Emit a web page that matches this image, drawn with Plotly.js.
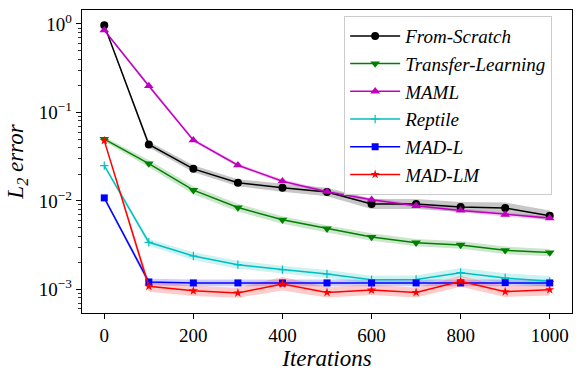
<!DOCTYPE html>
<html>
<head>
<meta charset="utf-8">
<script src="https://cdn.plot.ly/plotly-3.0.1.min.js"></script>
<style>
  html, body { margin: 0; padding: 0; background: #fff; }
  #chart { width: 581px; height: 377px; }
</style>
</head>
<body>
<div id="chart"></div>
<script>
// iterations sampled
const iterations = [0, 100, 200, 300, 400, 500, 600, 700, 800, 900, 1000];

// mean L2 error per method, with lower / upper band
const scratch = [0.97, 0.0434, 0.023, 0.016, 0.0141, 0.0126, 0.0092, 0.0092, 0.0085, 0.0083, 0.0068];
const scratchLo = [0.95, 0.040, 0.021, 0.0146, 0.0127, 0.0113, 0.0081, 0.0081, 0.0075, 0.0072, 0.0060];
const scratchHi = [0.99, 0.047, 0.0252, 0.0176, 0.0156, 0.0141, 0.0105, 0.0105, 0.0097, 0.0096, 0.0078];

const transfer = [0.050, 0.0264, 0.0132, 0.0084, 0.0061, 0.00485, 0.0039, 0.00337, 0.00317, 0.00276, 0.0026];
const transferLo = [0.047, 0.024, 0.0119, 0.0076, 0.0055, 0.0044, 0.00355, 0.00307, 0.00288, 0.0025, 0.00236];
const transferHi = [0.053, 0.029, 0.0146, 0.0093, 0.0067, 0.0053, 0.0043, 0.0037, 0.0035, 0.00304, 0.00286];

const maml = [0.85, 0.199, 0.0486, 0.0253, 0.0167, 0.0127, 0.0103, 0.0088, 0.0078, 0.0070, 0.0064];
const mamlLo = [0.82, 0.19, 0.0465, 0.0242, 0.016, 0.0121, 0.0098, 0.0084, 0.0074, 0.0066, 0.0061];
const mamlHi = [0.88, 0.209, 0.051, 0.0265, 0.0175, 0.0133, 0.0108, 0.0092, 0.0082, 0.0074, 0.0067];

const reptile = [0.025, 0.0034, 0.00238, 0.0019, 0.00167, 0.00149, 0.00128, 0.00129, 0.00154, 0.00134, 0.00123];
const reptileLo = [0.024, 0.0031, 0.00215, 0.00171, 0.0015, 0.00134, 0.00115, 0.00116, 0.00137, 0.00118, 0.00107];
const reptileHi = [0.026, 0.0037, 0.00262, 0.0021, 0.00185, 0.00165, 0.00142, 0.00143, 0.00174, 0.00152, 0.00141];

const madL = [0.0108, 0.00121, 0.00118, 0.00118, 0.00118, 0.00118, 0.00118, 0.00118, 0.00118, 0.00119, 0.00118];
const madLLo = [0.0103, 0.00111, 0.00108, 0.00108, 0.00108, 0.00108, 0.00108, 0.00108, 0.00108, 0.00109, 0.00108];
const madLHi = [0.0113, 0.00132, 0.00129, 0.00129, 0.00129, 0.00129, 0.00129, 0.00129, 0.00129, 0.0013, 0.00129];

const madLM = [0.048, 0.00108, 0.00096, 0.00091, 0.00115, 0.00092, 0.00098, 0.00092, 0.00123, 0.00094, 0.00099];
const madLMLo = [0.047, 0.00094, 0.00084, 0.00080, 0.00097, 0.00081, 0.00086, 0.00081, 0.00107, 0.00082, 0.00085];
const madLMHi = [0.049, 0.00124, 0.0011, 0.00104, 0.00138, 0.00106, 0.00112, 0.00105, 0.00142, 0.00108, 0.00114];

const yTickVals = [0.001, 0.01, 0.1, 1];
const yTickText = ['10<sup>\u22123</sup>', '10<sup>\u22122</sup>', '10<sup>\u22121</sup>', '10<sup>0</sup>'];

const serif = "'Liberation Serif', 'Times New Roman', 'DejaVu Serif', serif";

const methods = [
    { name: 'From-Scratch', y: scratch, lo: scratchLo, hi: scratchHi, color: '#000000', band: 'rgba(0,0,0,0.22)', symbol: 'circle', size: 8 },
    { name: 'Transfer-Learning', y: transfer, lo: transferLo, hi: transferHi, color: '#008000', band: 'rgba(0,128,0,0.2)', symbol: 'triangle-down', size: 8.5 },
    { name: 'MAML', y: maml, lo: mamlLo, hi: mamlHi, color: '#bf00bf', band: 'rgba(191,0,191,0.2)', symbol: 'triangle-up', size: 8.5 },
    { name: 'Reptile', y: reptile, lo: reptileLo, hi: reptileHi, color: '#00bfbf', band: 'rgba(0,191,191,0.2)', symbol: 'cross-thin', size: 6 },
    { name: 'MAD-L', y: madL, lo: madLLo, hi: madLHi, color: '#0000ff', band: 'rgba(0,0,255,0.2)', symbol: 'square', size: 7 },
    { name: 'MAD-LM', y: madLM, lo: madLMLo, hi: madLMHi, color: '#ff0000', band: 'rgba(255,0,0,0.2)', symbol: 'star', size: 7 }
];

const data = [];
// shaded bands first
methods.forEach(m => {
    data.push({
        x: iterations.concat(iterations.slice().reverse()),
        y: m.hi.concat(m.lo.slice().reverse()),
        type: 'scatter',
        mode: 'lines',
        fill: 'toself',
        fillcolor: m.band,
        line: { width: 0 },
        hoverinfo: 'skip',
        showlegend: false,
        legendgroup: m.name
    });
});
methods.forEach(m => {
    data.push({
        x: iterations,
        y: m.y,
        name: m.name,
        type: 'scatter',
        mode: 'lines+markers',
        legendgroup: m.name,
        line: { color: m.color, width: 1.5 },
        marker: { color: m.color, symbol: m.symbol, size: m.size, line: { color: m.color, width: m.symbol === 'cross-thin' ? 1.2 : 0 } }
    });
});

// minor ticks of the log axis
const minorVals = [];
for (let e = -4; e <= 0; e++) {
    for (let k = 2; k <= 9; k++) minorVals.push(k * Math.pow(10, e));
}

const layout = {
    width: 581,
    height: 377,
    margin: { l: 82, r: 9, t: 10, b: 64 },
    paper_bgcolor: '#ffffff',
    plot_bgcolor: '#ffffff',
    font: { family: serif, color: '#000000', size: 18 },
    showlegend: true,
    legend: {
        x: 0.535, y: 0.98, xanchor: 'left', yanchor: 'top',
        bgcolor: 'rgba(255,255,255,0.8)',
        bordercolor: '#cccccc',
        borderwidth: 1,
        tracegroupgap: 0,
        itemwidth: 50,
        font: { family: serif, size: 19, style: 'italic' }
    },
    xaxis: {
        range: [-50, 1050],
        tickvals: [0, 200, 400, 600, 800, 1000],
        ticks: 'outside', ticklen: 5, tickwidth: 1, tickcolor: '#000',
        showgrid: false, zeroline: false,
        showline: true, mirror: true, linecolor: '#000', linewidth: 1.2,
        tickfont: { family: serif, size: 19 },
        title: { text: 'Iterations', standoff: 4, font: { family: serif, size: 23, style: 'italic' } }
    },
    yaxis: {
        type: 'log',
        range: [-3.268, 0.158],
        tickvals: yTickVals,
        ticktext: yTickText,
        ticks: 'outside', ticklen: 5, tickwidth: 1, tickcolor: '#000',
        minor: { tickvals: minorVals, ticks: 'outside', ticklen: 3, tickwidth: 0.8, tickcolor: '#000', showgrid: false },
        showgrid: false, zeroline: false,
        showline: true, mirror: true, linecolor: '#000', linewidth: 1.2,
        tickfont: { family: serif, size: 19 },
        title: { text: 'L<sub>2</sub> error', standoff: 8, font: { family: serif, size: 23, style: 'italic' } }
    }
};

Plotly.newPlot('chart', data, layout, { displayModeBar: false, staticPlot: true });
</script>
</body>
</html>
